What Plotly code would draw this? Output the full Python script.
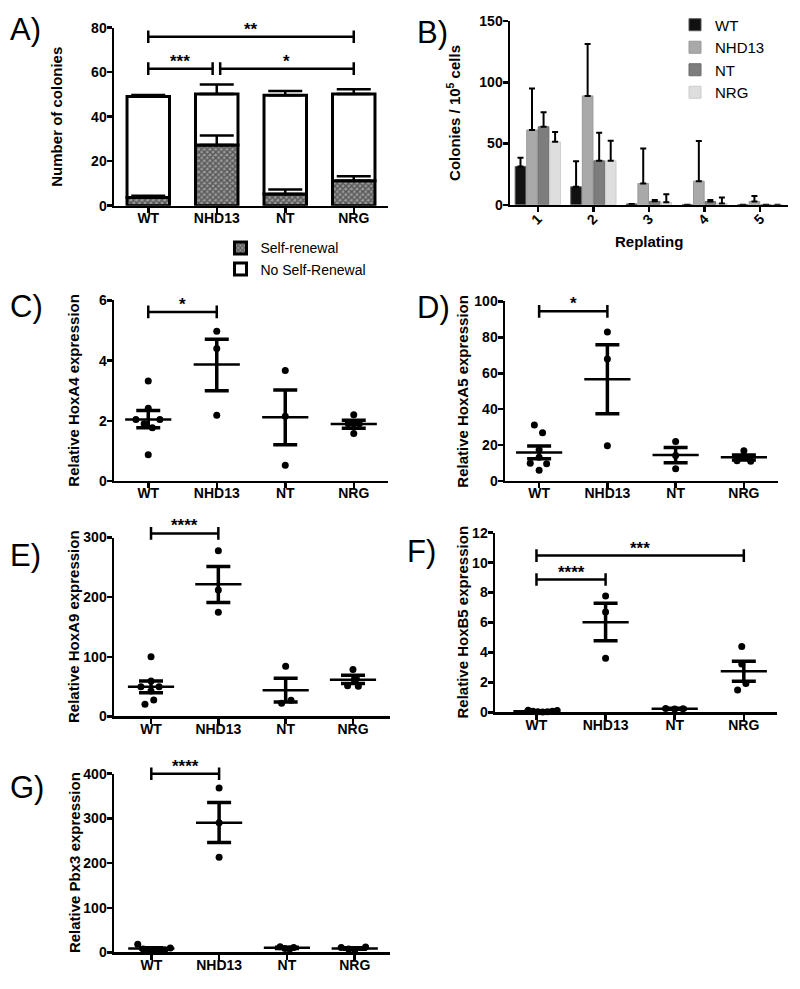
import plotly.graph_objects as go

W, H = 800, 989
FONT = "Liberation Sans, Arial, Helvetica, sans-serif"

groups = ["WT", "NHD13", "NT", "NRG"]
group_idx = [0, 1, 2, 3]

# ---------------- Panel A: colonies (stacked) ----------------
a_self = [3.7, 27.3, 5.3, 11.2]
a_self_err = [0.8, 4.3, 2.0, 2.0]
a_noself = [45.4, 22.9, 44.3, 39.0]
a_total_err = [0.7, 4.3, 2.0, 2.1]
a_brackets = [(0, 0.94, 61.6, "***"), (1.05, 3, 61.6, "*"), (0, 3, 75.9, "**")]

# ---------------- Panel B: replating ----------------
replating = [1, 2, 3, 4, 5]
b_wt = [31.3, 14.7, 0.7, 0, 0]
b_wt_err = [7.0, 20.9, None, None, None]
b_nhd13 = [61.1, 88.9, 17.4, 19.3, 2.7]
b_nhd13_err = [33.9, 42.3, 28.6, 32.7, 4.5]
b_nt = [63.7, 35.9, 2.8, 2.6, 0]
b_nt_err = [11.8, 23.0, 1.0, 1.2, None]
b_nrg = [51.4, 35.9, 2.0, 1.0, 0]
b_nrg_err = [8.1, 16.3, 6.6, 4.9, None]

# ---------------- Panel C: HoxA4 ----------------
c_points = [[3.32, 2.42, 2.04, 2.04, 1.90, 1.77, 0.87], [4.98, 4.40, 2.18],
            [3.67, 2.15, 0.52], [2.20, 1.90, 1.90, 1.90, 1.58]]
c_jitter = [[0, 0, -0.18, 0.17, -0.06, 0.06, 0], [0, 0, 0], [0, 0, 0], [0, -0.08, 0, 0.08, 0]]
c_mean = [2.04, 3.87, 2.12, 1.89]
c_hi = [2.34, 4.71, 3.02, 2.02]
c_lo = [1.77, 3.00, 1.20, 1.75]
c_brackets = [(0, 1, 5.62, "*")]

# ---------------- Panel D: HoxA5 ----------------
d_points = [[31.1, 26.9, 17.4, 13.2, 9.9, 9.5, 5.9], [83.0, 68.0, 19.6],
            [21.9, 14.1, 6.8], [16.8, 13.0, 12.5, 11.3, 11.0]]
d_jitter = [[-0.07, 0.05, 0, 0, -0.13, 0.11, 0], [0, 0, 0], [0, 0, 0], [0, -0.08, 0.08, -0.1, 0.1]]
d_mean = [15.9, 56.7, 14.5, 13.2]
d_hi = [19.4, 75.9, 18.6, 14.5]
d_lo = [12.4, 37.5, 10.1, 11.6]
d_brackets = [(0, 1, 94.5, "*")]

# ---------------- Panel E: HoxA9 ----------------
e_points = [[100.2, 59.4, 49.5, 49.5, 42.4, 27.5, 20.3], [277.9, 211.9, 174.5],
            [84.2, 27.0, 22.0], [78.8, 63.0, 51.5, 50.5]]
e_jitter = [[0, 0, -0.15, 0.12, 0, 0.04, -0.09], [0, 0, 0], [0, 0.08, -0.06], [0, 0.05, -0.08, 0.08]]
e_mean = [49.5, 221.8, 44.0, 61.6]
e_hi = [59.4, 251.5, 64.0, 68.8]
e_lo = [39.6, 191.0, 24.2, 55.0]
e_brackets = [(0, 1, 307, "****")]

# ---------------- Panel F: HoxB5 ----------------
f_points = [[0.15, 0.08, 0.05, 0.03, 0.04, 0.07, 0.12], [7.77, 6.70, 3.61],
            [0.26, 0.22, 0.24], [4.40, 3.24, 1.93, 1.49]]
f_jitter = [[-0.12, -0.05, 0.02, 0.09, 0.16, 0.23, 0.30], [0, 0, 0], [-0.13, 0, 0.12],
            [-0.03, -0.03, 0.03, -0.09]]
f_mean = [0.08, 6.02, 0.24, 2.74]
f_hi = [0.10, 7.29, 0.27, 3.42]
f_lo = [0.06, 4.78, 0.21, 2.08]
f_brackets = [(0, 1, 8.87, "****"), (0, 3, 10.47, "***")]

# ---------------- Panel G: Pbx3 ----------------
g_points = [[18.3, 8.0, 6.0, 5.0, 5.0, 6.0, 10.0], [368.0, 290.0, 213.0],
            [13.0, 11.0, 9.0, 8.0], [11.0, 8.0, 5.0, 12.0]]
g_jitter = [[-0.2, -0.12, -0.04, 0.04, 0.12, 0.2, 0.28], [0, 0, 0], [-0.1, 0.1, -0.03, 0.04],
            [-0.2, -0.09, 0, 0.16]]
g_mean = [8.8, 290.0, 10.3, 9.0]
g_hi = [10.5, 335.5, 11.5, 10.8]
g_lo = [7.1, 246.0, 9.0, 7.2]
g_brackets = [(0, 1, 400, "****")]


# ================= helpers =================
def fx(p):
    return p / W


def fy(p):
    return 1 - p / H


def axname(letter, n):
    return f"{letter}axis" if n == 1 else f"{letter}axis{n}"


def axref(letter, n):
    return letter if n == 1 else f"{letter}{n}"


fig = go.Figure()
layout = {}
annotations = []

base_axis = dict(showgrid=False, zeroline=False, showline=True, linecolor="black", linewidth=2.5,
                 ticks="outside", ticklen=5, tickwidth=2.5, tickcolor="black",
                 tickfont=dict(family=FONT, size=14, color="black", weight="bold"),
                 fixedrange=True)


def setup_panel(n, xpx, ypx, xrange, ytop, ydtick, xtickvals, xticktext, tickangle=0):
    xd = [fx(xpx[0]), fx(xpx[1])]
    yd = [fy(ypx[1]), fy(ypx[0])]
    layout[axname("x", n)] = dict(base_axis, domain=xd, range=xrange, anchor=axref("y", n),
                                  tickmode="array", tickvals=xtickvals, ticktext=xticktext,
                                  tickangle=tickangle, ticklabelstandoff=-7)
    layout[axname("y", n)] = dict(base_axis, domain=yd, range=[0, ytop], anchor=axref("x", n),
                                  tickmode="linear", tick0=0, dtick=ydtick, ticklabelstandoff=-3)
    return yd


def setup_helper(n, yd, ytop, ext_px=16):
    h = n + 7
    top = yd[1] + ext_px / H
    layout[axname("y", h)] = dict(domain=[yd[0], top],
                                  range=[0, ytop * (top - yd[0]) / (yd[1] - yd[0])],
                                  visible=False, anchor=axref("x", n), fixedrange=True)
    return axref("y", h)


def add_brackets(n, yref_h, brackets):
    for x1, x2, h, label in brackets:
        fig.add_trace(go.Scatter(
            x=[x1, x2], y=[h, h], mode="lines+markers",
            line=dict(color="black", width=2.5),
            marker=dict(symbol="line-ns", size=9, color="black", line=dict(width=2.5, color="black")),
            xaxis=axref("x", n), yaxis=yref_h, showlegend=False, hoverinfo="skip"))
        annotations.append(dict(x=(x1 + x2) / 2, y=h, xref=axref("x", n), yref=yref_h, text=label,
                                showarrow=False, yanchor="bottom", yshift=-4,
                                font=dict(family=FONT, size=17, color="black", weight="bold")))


def add_dot_panel(n, points, jitter, means, hi, lo):
    xs, ys = [], []
    for i, (vals, jit) in enumerate(zip(points, jitter)):
        for v, j in zip(vals, jit):
            xs.append(i + j)
            ys.append(v)
    fig.add_trace(go.Scatter(
        x=group_idx, y=means, mode="markers",
        marker=dict(symbol="line-ew", size=33, color="black", line=dict(width=2.5, color="black")),
        error_y=dict(type="data", symmetric=False,
                     array=[h - m for h, m in zip(hi, means)],
                     arrayminus=[m - l for m, l in zip(means, lo)],
                     thickness=3.5, width=12, color="black"),
        xaxis=axref("x", n), yaxis=axref("y", n), showlegend=False, cliponaxis=False,
        hoverinfo="skip"))
    fig.add_trace(go.Scatter(
        x=xs, y=ys, mode="markers", marker=dict(size=7, color="black"),
        xaxis=axref("x", n), yaxis=axref("y", n), showlegend=False, cliponaxis=False))


# ================= Panel A =================
ydA = setup_panel(1, (114, 388), (20, 201), [-0.5, 3.5], 80, 20, group_idx, groups)
fig.add_trace(go.Bar(
    x=group_idx, y=a_self, offset=-0.31, width=0.62, name="Self-renewal",
    marker=dict(color="white", line=dict(color="black", width=3),
                pattern=dict(shape="x", size=4, solidity=0.6, fgcolor="#111111", bgcolor="#9a9a9a")),
    xaxis="x", yaxis="y", legend="legend"))
fig.add_trace(go.Bar(
    x=group_idx, y=a_noself, base=a_self, offset=-0.31, width=0.62, name="No Self-Renewal",
    marker=dict(color="white", line=dict(color="black", width=3)),
    xaxis="x", yaxis="y", legend="legend"))
a_total = [s + t for s, t in zip(a_self, a_noself)]
for yy, ee in ((a_self, a_self_err), (a_total, a_total_err)):
    fig.add_trace(go.Scatter(
        x=group_idx, y=yy, mode="markers", marker=dict(size=1, color="rgba(0,0,0,0)"),
        error_y=dict(type="data", symmetric=False, array=ee, arrayminus=[0] * len(ee),
                     thickness=2.5, width=17, color="black"),
        xaxis="x", yaxis="y", showlegend=False, hoverinfo="skip"))
add_brackets(1, setup_helper(1, ydA, 80), a_brackets)

# ================= Panel B =================
setup_panel(2, (510, 788), (13.3, 200), [0.5, 5.5], 150, 50, replating,
            [str(r) for r in replating], tickangle=-45)
b_series = [("WT", b_wt, b_wt_err, "#111111", "#555555"),
            ("NHD13", b_nhd13, b_nhd13_err, "#a9a9a9", "#999999"),
            ("NT", b_nt, b_nt_err, "#7d7d7d", "#6a6a6a"),
            ("NRG", b_nrg, b_nrg_err, "#dedede", "#cccccc")]
for name, vals, errs, col, lcol in b_series:
    fig.add_trace(go.Bar(
        x=replating, y=vals, name=name,
        marker=dict(color=col, line=dict(color=lcol, width=1)),
        error_y=dict(type="data", symmetric=False, array=errs,
                     arrayminus=[0 if e is not None else None for e in errs],
                     thickness=2, width=3, color="black"),
        xaxis="x2", yaxis="y2", legend="legend2"))

# ================= Panels C-G =================
ydC = setup_panel(3, (114, 388), (297.3, 480.7), [-0.5, 3.5], 6, 2, group_idx, groups)
add_dot_panel(3, c_points, c_jitter, c_mean, c_hi, c_lo)
add_brackets(3, setup_helper(3, ydC, 6), c_brackets)

ydD = setup_panel(4, (505, 778), (298.3, 480.7), [-0.5, 3.5], 100, 20, group_idx, groups)
add_dot_panel(4, d_points, d_jitter, d_mean, d_hi, d_lo)
add_brackets(4, setup_helper(4, ydD, 100), d_brackets)

ydE = setup_panel(5, (114, 390), (538.3, 720), [-0.55, 3.55], 300, 100, group_idx, groups)
add_dot_panel(5, e_points, e_jitter, e_mean, e_hi, e_lo)
add_brackets(5, setup_helper(5, ydE, 300), e_brackets)

ydF = setup_panel(6, (495, 777), (533.3, 716), [-0.6, 3.48], 12, 2, group_idx, groups)
add_dot_panel(6, f_points, f_jitter, f_mean, f_hi, f_lo)
add_brackets(6, setup_helper(6, ydF, 12), f_brackets)

ydG = setup_panel(7, (114, 390), (778.3, 960), [-0.55, 3.52], 400, 100, group_idx, groups)
add_dot_panel(7, g_points, g_jitter, g_mean, g_hi, g_lo)
add_brackets(7, setup_helper(7, ydG, 400), g_brackets)

# ================= titles & labels =================
y_titles = [(1, "Number of colonies", 57), (2, "Colonies / 10<sup>5</sup> cells", 454),
            (3, "Relative HoxA4 expression", 74), (4, "Relative HoxA5 expression", 462.5),
            (5, "Relative HoxA9 expression", 74), (6, "Relative HoxB5 expression", 463),
            (7, "Relative Pbx3 expression", 74)]
for n, text, cx in y_titles:
    annotations.append(dict(text=text, xref="paper", x=fx(cx), yref=f"{axref('y', n)} domain", y=0.5,
                            textangle=-90, showarrow=False, xanchor="center", yanchor="middle",
                            font=dict(family=FONT, size=15, color="black", weight="bold")))
annotations.append(dict(text="Replating", xref="x2 domain", x=0.5, yref="paper", y=fy(237),
                        showarrow=False, xanchor="center", yanchor="middle",
                        font=dict(family=FONT, size=15, color="black", weight="bold")))

panel_labels = [("A)", 8, 22), ("B)", 415, 25), ("C)", 8, 303), ("D)", 415, 304),
                ("E)", 8, 557), ("F)", 405, 552), ("G)", 8, 792)]
for text, lx, ly in panel_labels:
    annotations.append(dict(text=text, xref="paper", x=fx(lx), yref="paper", y=fy(ly),
                            showarrow=False, xanchor="left", yanchor="middle",
                            font=dict(family=FONT, size=31, color="black")))

layout["legend"] = dict(x=fx(220.5), y=fy(228), xanchor="left", yanchor="top",
                        bgcolor="rgba(0,0,0,0)", borderwidth=0, traceorder="normal",
                        font=dict(family=FONT, size=14, color="black"))
layout["legend2"] = dict(x=fx(675), y=fy(0.5), xanchor="left", yanchor="top",
                         bgcolor="rgba(0,0,0,0)", borderwidth=0, traceorder="normal",
                         font=dict(family=FONT, size=15, color="black"))

fig.update_layout(**layout)
fig.update_layout(width=W, height=H, autosize=False, margin=dict(l=0, r=0, t=0, b=0),
                  paper_bgcolor="white", plot_bgcolor="rgba(0,0,0,0)", barmode="group",
                  bargap=0.17, bargroupgap=0.08, showlegend=True,
                  font=dict(family=FONT, color="black"), annotations=annotations)

fig.write_html("out.html", config={"displayModeBar": False, "staticPlot": True},
               post_script="document.body.style.margin='0px';")
